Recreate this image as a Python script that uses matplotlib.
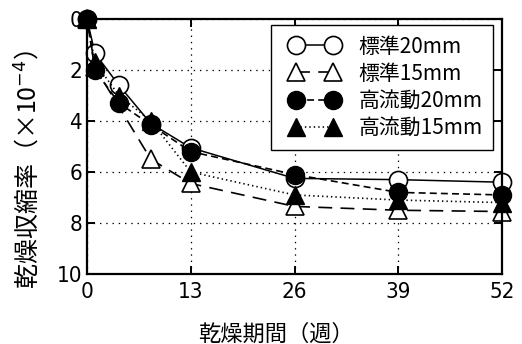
import matplotlib
matplotlib.use("Agg")
import matplotlib.pyplot as plt
from matplotlib.legend_handler import HandlerLine2D

plt.rcParams['font.family'] = ['Noto Sans CJK JP', 'DejaVu Sans']
plt.rcParams['mathtext.fontset'] = 'dejavusans'
plt.rcParams['lines.scale_dashes'] = False

# drying period (weeks) and drying shrinkage (x10^-4)
weeks = [0, 1, 4, 8, 13, 26, 39, 52]
std20 = [0, 1.35, 2.6, 4.1, 5.05, 6.25, 6.3, 6.4]
weeks_std15 = [0, 1, 8, 13, 26, 39, 52]
std15 = [0, 1.9, 5.5, 6.45, 7.35, 7.5, 7.55]
hf20 = [0, 2.0, 3.3, 4.15, 5.2, 6.1, 6.8, 6.9]
hf15 = [0, 1.7, 3.0, 4.0, 6.0, 6.9, 7.1, 7.2]

labels = ['標準20mm', '標準15mm', '高流動20mm', '高流動15mm']
xticks = [0, 13, 26, 39, 52]
yticks = [0, 2, 4, 6, 8, 10]

fig = plt.figure(figsize=(5.22, 3.44), dpi=100)
ax = fig.add_axes([87/522, 1-274/344, 415/522, 255/344])

ms = 13
lines = []
lines += ax.plot(weeks, std20, color='k', lw=1.1, ls='-', marker='o', ms=ms,
                 mfc='white', mec='k', mew=1.2, clip_on=False, label=labels[0])
lines += ax.plot(weeks_std15, std15, color='k', lw=1.2, ls=(0, (10, 6)), marker='^', ms=ms,
                 mfc='white', mec='k', mew=1.2, clip_on=False, label=labels[1])
lines += ax.plot(weeks, hf20, color='k', lw=1.2, ls=(0, (5, 3)), marker='o', ms=ms,
                 mfc='k', mec='k', clip_on=False, label=labels[2])
lines += ax.plot(weeks, hf15, color='k', lw=1.2, ls=(0, (1, 2.2)), marker='^', ms=ms,
                 mfc='k', mec='k', clip_on=False, label=labels[3])

ax.set_xlim(0, 52)
ax.set_ylim(10, 0)
ax.set_xticks(xticks)
ax.set_yticks(yticks)
ax.grid(True, color='k', lw=0.9, ls=(0, (1, 3.5)))
ax.tick_params(direction='in', length=6, width=1.4, labelsize=16,
               top=True, right=True, pad=3.5)
ax.tick_params(axis='x', pad=6)
for lbl in ax.get_xticklabels() + ax.get_yticklabels():
    lbl.set_family('DejaVu Sans')
    lbl.set_fontstretch('condensed')
for s in ax.spines.values():
    s.set_linewidth(1.6)

ax.set_xlabel('乾燥期間（週）', fontsize=16)
ax.xaxis.set_label_coords(0.455, -0.19)
ax.set_ylabel('乾燥収縮率（×10$^{-4}$）', fontsize=18)
ax.yaxis.set_label_coords(-0.105, 0.41)

handler = HandlerLine2D(numpoints=2, marker_pad=0.7)
leg = ax.legend(handles=lines, loc='upper right', bbox_to_anchor=(0.978, 0.976),
                fontsize=15, handler_map={l: handler for l in lines},
                handlelength=3.2, handletextpad=0.5,
                labelspacing=0.25, borderpad=0.5, fancybox=False,
                framealpha=1, edgecolor='k', borderaxespad=0)
leg.get_frame().set_linewidth(1.0)

fig.savefig('out.png', dpi=100)
